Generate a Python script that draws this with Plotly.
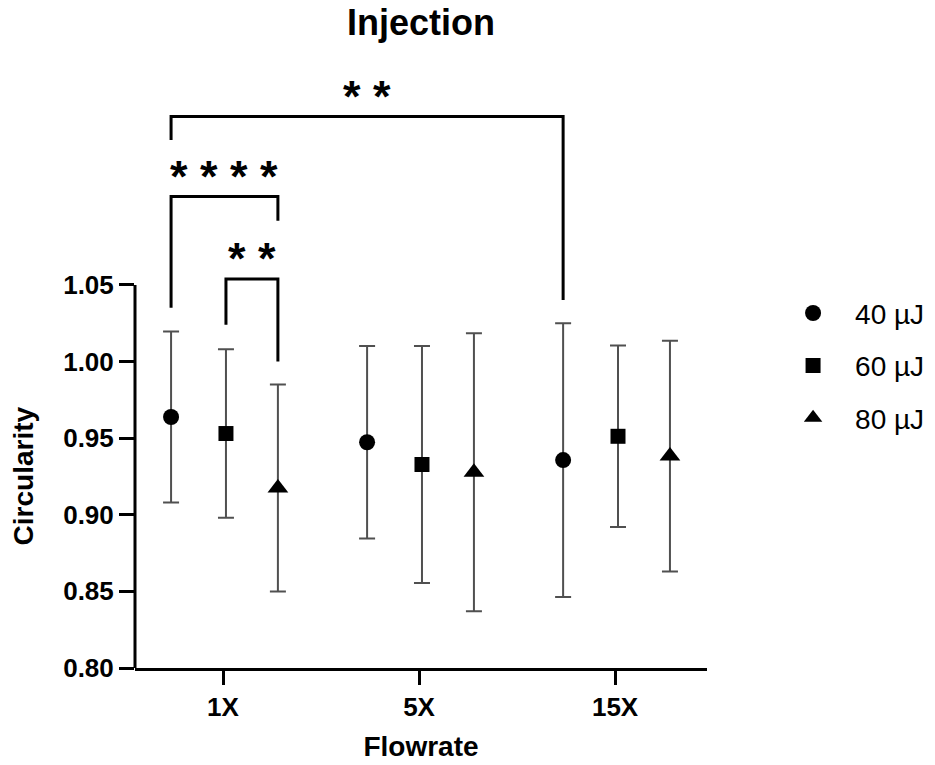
import plotly.graph_objects as go

# Circularity (mean ± SD) per flowrate and pulse energy
flowrates = ["1X", "5X", "15X"]
energies = ["40 µJ", "60 µJ", "80 µJ"]

mean_40 = [0.9638, 0.9473, 0.9357]
sd_40 = [0.0558, 0.0628, 0.0893]
mean_60 = [0.9530, 0.9328, 0.9512]
sd_60 = [0.0550, 0.0773, 0.0592]
mean_80 = [0.9175, 0.9277, 0.9383]
sd_80 = [0.0675, 0.0907, 0.0753]

y_ticks = [0.80, 0.85, 0.90, 0.95, 1.00, 1.05]

# Significance brackets: (energy, flowrate) pairs, bracket height, leg ends, label
comparisons = [
    (("40 µJ", "1X"), ("80 µJ", "1X"), 1.1076, 1.0350, 1.0918, "* * * *"),
    (("60 µJ", "1X"), ("80 µJ", "1X"), 1.0539, 1.0239, 1.0000, "* *"),
    (("40 µJ", "1X"), ("40 µJ", "15X"), 1.1599, 1.1446, 1.0402, "* *"),
]

FONT = "Liberation Sans, Arial, sans-serif"
Y_MIN, Y_AXIS_TOP, Y_MAX = 0.80, 1.05, 1.20

series = {
    "40 µJ": (mean_40, sd_40, "circle", 16, -0.265),
    "60 µJ": (mean_60, sd_60, "square", 15, 0.015),
    "80 µJ": (mean_80, sd_80, "triangle-up", 18, 0.28),
}


def xpos(energy, flowrate):
    return flowrates.index(flowrate) + 1 + series[energy][4]


fig = go.Figure()
for name in energies:
    means, sds, symbol, size, offset = series[name]
    fig.add_trace(go.Scatter(
        x=[xpos(name, f) for f in flowrates],
        y=means,
        name=name,
        legendgroup=name,
        mode="markers",
        marker=dict(symbol=symbol, size=size, color="black"),
        error_y=dict(type="data", array=sds, visible=True,
                     color="#505050", thickness=2, width=8),
    ))

axis_top_frac = (Y_AXIS_TOP - Y_MIN) / (Y_MAX - Y_MIN)

shapes = [
    # left axis line, stopping at the top tick
    dict(type="line", xref="paper", yref="paper", x0=0, x1=0, y0=0,
         y1=axis_top_frac, line=dict(color="black", width=3)),
]
annotations = [
    # y-axis title, centred on the drawn part of the axis
    dict(text="Circularity", textangle=-90, xref="paper", yref="paper",
         x=0, xanchor="center", xshift=-112,
         y=axis_top_frac / 2, yanchor="middle", showarrow=False,
         font=dict(family=FONT, size=28, color="black", weight="bold")),
]
for a, b, top, leg_a, leg_b, label in comparisons:
    xa, xb = xpos(*a), xpos(*b)
    shapes.append(dict(
        type="path", xref="x", yref="y",
        path=f"M {xa},{leg_a} L {xa},{top} L {xb},{top} L {xb},{leg_b}",
        line=dict(color="black", width=3),
    ))
    annotations.append(dict(
        x=(xa + xb) / 2, y=top, xref="x", yref="y", text=label,
        showarrow=False, yanchor="middle", yshift=20,
        font=dict(family=FONT, size=45, color="black", weight="bold"),
    ))

fig.update_layout(
    width=935, height=765,
    margin=dict(l=135, r=228, t=55, b=97, autoexpand=False),
    paper_bgcolor="white", plot_bgcolor="white",
    font=dict(family=FONT, color="black"),
    title=dict(text="Injection", x=0.5, xref="paper", xanchor="center",
               y=1 - 22 / 765, yref="container", yanchor="middle",
               font=dict(size=36, weight="bold", color="black")),
    xaxis=dict(
        range=[0.551, 3.469], tickvals=[1, 2, 3], ticktext=flowrates,
        showline=True, linewidth=3, linecolor="black",
        ticks="outside", ticklen=14, tickwidth=3, tickcolor="black",
        showgrid=False, zeroline=False,
        tickfont=dict(size=26, weight="bold"),
        title=dict(text="Flowrate", standoff=16,
                   font=dict(size=28, weight="bold")),
    ),
    yaxis=dict(
        range=[Y_MIN, Y_MAX], tickvals=y_ticks, tickformat=".2f",
        showline=False, ticks="outside", ticklen=15, tickwidth=3,
        tickcolor="black", showgrid=False, zeroline=False,
        tickfont=dict(size=26, weight="bold"),
    ),
    legend=dict(
        x=1.112, xanchor="left", y=0.493, yanchor="middle",
        font=dict(size=28, color="black"),
        itemwidth=74, tracegroupgap=13, bgcolor="rgba(0,0,0,0)",
    ),
    showlegend=True,
    shapes=shapes,
    annotations=annotations,
)

fig.write_html("out.html")
